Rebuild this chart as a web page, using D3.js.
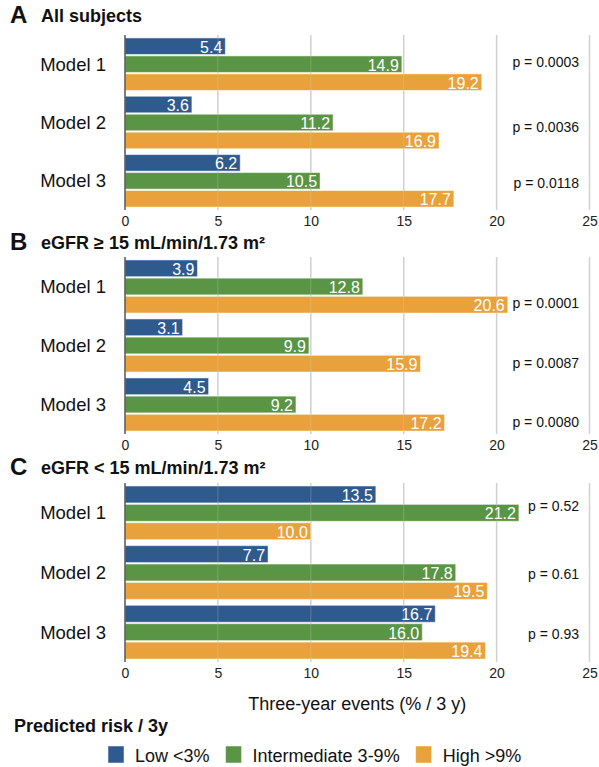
<!DOCTYPE html>
<html>
<head>
<meta charset="utf-8">
<script src="https://cdn.jsdelivr.net/npm/d3@7/dist/d3.min.js"></script>
<style>
  html, body { margin: 0; padding: 0; background: #fff; }
  svg { display: block; font-family: "Liberation Sans", Arial, Helvetica, sans-serif; }
</style>
</head>
<body>
<svg id="chart" width="599" height="767"></svg>
<script>
// Three-year event rates by predicted-risk group, per model and eGFR subgroup
const models = ["Model 1", "Model 2", "Model 3"];
const riskGroups = ["Low <3%", "Intermediate 3-9%", "High >9%"];
const panelLetters = ["A", "B", "C"];
const panelTitles = ["All subjects", "eGFR \u2265 15 mL/min/1.73 m\u00B2", "eGFR < 15 mL/min/1.73 m\u00B2"];

const lowAll = [5.4, 3.6, 6.2];
const intAll = [14.9, 11.2, 10.5];
const highAll = [19.2, 16.9, 17.7];

const lowHi = [3.9, 3.1, 4.5];
const intHi = [12.8, 9.9, 9.2];
const highHi = [20.6, 15.9, 17.2];

const lowLo = [13.5, 7.7, 16.7];
const intLo = [21.2, 17.8, 16.0];
const highLo = [10.0, 19.5, 19.4];

const pAll = ["p = 0.0003", "p = 0.0036", "p = 0.0118"];
const pHi = ["p = 0.0001", "p = 0.0087", "p = 0.0080"];
const pLo = ["p = 0.52", "p = 0.61", "p = 0.93"];

const xTicks = [0, 5, 10, 15, 20, 25];
const xTitle = "Three-year events (% / 3 y)";
const legendTitle = "Predicted risk / 3y";

const colors = ["#2f5a8e", "#5a9546", "#e8a13b"];

// panel data assembled from the arrays above
const panels = [
  { series: [lowAll, intAll, highAll], p: pAll },
  { series: [lowHi, intHi, highHi], p: pHi },
  { series: [lowLo, intLo, highLo], p: pLo }
];

// layout
const layout = [
  { top: 35, bottom: 210, titleY: 23, pShift: [-2, 4, 2] },
  { top: 257, bottom: 434, titleY: 250, pShift: [16, 17, 17] },
  { top: 483, bottom: 662, titleY: 475, pShift: [-7, 1, 2] }
];

const svg = d3.select("#chart");
const x = d3.scaleLinear().domain([0, 25]).range([125, 589.5]);
const fmt = d3.format(".1f");

panels.forEach((panel, pi) => {
  const L = layout[pi];
  const g = svg.append("g");

  // heading
  g.append("text").attr("x", 10).attr("y", L.titleY)
    .attr("font-size", 24).attr("font-weight", "bold").attr("fill", "#111")
    .text(panelLetters[pi]);
  g.append("text").attr("x", 41).attr("y", L.titleY - 1)
    .attr("font-size", 18).attr("font-weight", "bold").attr("fill", "#111")
    .text(panelTitles[pi]);

  const yModel = d3.scaleBand().domain(models).range([L.top, L.bottom])
    .paddingInner(0.1).paddingOuter(0.05);
  const yGroup = d3.scaleBand().domain(d3.range(3)).range([0, yModel.bandwidth()])
    .paddingInner(0.08);

  // gridlines below bars
  g.append("g").selectAll("line").data(xTicks.slice(1)).join("line")
    .attr("x1", d => x(d)).attr("x2", d => x(d))
    .attr("y1", L.top).attr("y2", L.bottom)
    .attr("stroke", "#cfcfcf").attr("stroke-width", 1.5);

  // bars
  const rows = [];
  models.forEach((m, mi) => {
    panel.series.forEach((s, si) => rows.push({ m, mi, si, v: s[mi] }));
  });

  g.append("g").selectAll("rect").data(rows).join("rect")
    .attr("x", x(0))
    .attr("y", d => yModel(d.m) + yGroup(d.si))
    .attr("width", d => x(d.v) - x(0))
    .attr("height", yGroup.bandwidth())
    .attr("fill", d => colors[d.si])
    .attr("stroke", "#ffffff").attr("stroke-opacity", 0.5).attr("stroke-width", 1);

  // faint gridline trace across bars
  g.append("g").selectAll("line").data(xTicks.slice(1)).join("line")
    .attr("x1", d => x(d)).attr("x2", d => x(d))
    .attr("y1", L.top).attr("y2", L.bottom)
    .attr("stroke", "#dddddd").attr("stroke-opacity", 0.25).attr("stroke-width", 1);

  // value labels
  g.append("g").selectAll("text").data(rows).join("text")
    .attr("x", d => x(d.v) - 3)
    .attr("y", d => yModel(d.m) + yGroup(d.si) + yGroup.bandwidth() / 2 + 1)
    .attr("text-anchor", "end").attr("dominant-baseline", "central")
    .attr("font-size", 16).attr("fill", "#ffffff")
    .text(d => fmt(d.v));

  // zero axis line
  g.append("line").attr("x1", x(0)).attr("x2", x(0))
    .attr("y1", L.top).attr("y2", L.bottom)
    .attr("stroke", "#555").attr("stroke-width", 1.5);

  // model labels
  g.append("g").selectAll("text").data(models).join("text")
    .attr("x", 106).attr("y", d => yModel(d) + yModel.bandwidth() / 2)
    .attr("text-anchor", "end").attr("dominant-baseline", "central")
    .attr("font-size", 18.5).attr("fill", "#111")
    .text(d => d);

  // p-values
  g.append("g").selectAll("text").data(panel.p).join("text")
    .attr("x", 579)
    .attr("y", (d, i) => yModel(models[i]) + yModel.bandwidth() / 2 + L.pShift[i])
    .attr("text-anchor", "end").attr("dominant-baseline", "central")
    .attr("font-size", 14).attr("fill", "#111")
    .text(d => d);

  // x axis tick labels
  const axis = d3.axisBottom(x).tickValues(xTicks).tickSize(0).tickPadding(0);
  const ax = g.append("g").attr("transform", `translate(0,${L.bottom + 6})`).call(axis);
  ax.select(".domain").remove();
  ax.selectAll("text").attr("font-size", 14).attr("fill", "#222")
    .attr("font-family", "\"Liberation Sans\", Arial, sans-serif");
});

// axis title
svg.append("text").attr("x", (x(0) + x(25)) / 2).attr("y", 710)
  .attr("text-anchor", "middle").attr("font-size", 18).attr("fill", "#111")
  .text(xTitle);

// legend
svg.append("text").attr("x", 14).attr("y", 732)
  .attr("font-size", 18).attr("font-weight", "bold").attr("fill", "#111")
  .text(legendTitle);

const legend = svg.append("g").attr("transform", "translate(108,746)");
let lx = 0;
riskGroups.forEach((name, i) => {
  const item = legend.append("g").attr("transform", `translate(${lx},0)`);
  item.append("rect").attr("width", 16).attr("height", 17).attr("fill", colors[i])
    .attr("stroke", "#fff").attr("stroke-opacity", 0.5);
  const t = item.append("text").attr("x", 27).attr("y", 15.5)
    .attr("font-size", 18).attr("fill", "#111").text(name);
  lx += 27 + t.node().getComputedTextLength() + 16;
});
</script>
</body>
</html>
